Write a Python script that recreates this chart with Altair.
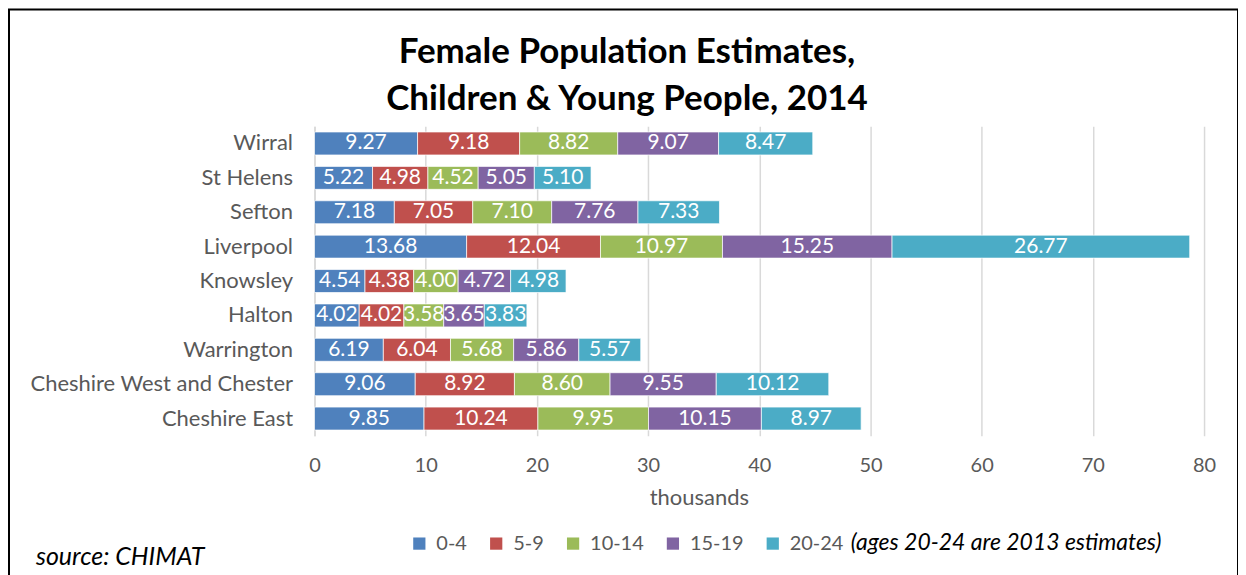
import altair as alt
import pandas as pd

regions = ["Wirral", "St Helens", "Sefton", "Liverpool", "Knowsley", "Halton",
           "Warrington", "Cheshire West and Chester", "Cheshire East"]
ages = ["0-4", "5-9", "10-14", "15-19", "20-24"]
colors = ["#4F81BD", "#C0504D", "#9BBB59", "#8064A2", "#4BACC6"]
title_lines = ["Female Population Estimates,", "Children & Young People, 2014"]

v_0_4 = [9.27, 5.22, 7.18, 13.68, 4.54, 4.02, 6.19, 9.06, 9.85]
v_5_9 = [9.18, 4.98, 7.05, 12.04, 4.38, 4.02, 6.04, 8.92, 10.24]
v_10_14 = [8.82, 4.52, 7.10, 10.97, 4.00, 3.58, 5.68, 8.60, 9.95]
v_15_19 = [9.07, 5.05, 7.76, 15.25, 4.72, 3.65, 5.86, 9.55, 10.15]
v_20_24 = [8.47, 5.10, 7.33, 26.77, 4.98, 3.83, 5.57, 10.12, 8.97]

series = [v_0_4, v_5_9, v_10_14, v_15_19, v_20_24]
rows = []
for ai, (age, vals) in enumerate(zip(ages, series)):
    for r, v in zip(regions, vals):
        rows.append({"region": r, "age": age, "order": ai, "value": v})
df = pd.DataFrame(rows)

FONT = "Lato"
W, H = 891, 310

base = alt.Chart(df).transform_stack(
    stack="value", groupby=["region"], as_=["x0", "x1"],
    sort=[alt.SortField("order", order="ascending")]
).transform_calculate(mid="(datum.x0 + datum.x1) / 2")

ycode = alt.Y("region:N", sort=regions, title=None,
              scale=alt.Scale(paddingInner=0, paddingOuter=0),
              axis=alt.Axis(labelFontSize=22, labelColor="#595959", labelFont=FONT,
                            ticks=False, domainColor="#D9D9D9", domainWidth=1.5,
                            labelPadding=22, labelLimit=400, grid=False))

bars = base.mark_bar(size=23, stroke="white", strokeWidth=0.7).encode(
    x=alt.X("x0:Q", scale=alt.Scale(domain=[0, 80]), title="thousands",
            axis=alt.Axis(values=list(range(0, 81, 10)), labelFontSize=20,
                          labelColor="#595959", labelFont=FONT, titleFont=FONT,
                          titleFontSize=22, titleColor="#595959", titleFontWeight="normal",
                          ticks=False, domain=False, gridColor="#D9D9D9", gridWidth=1.5,
                          labelFlush=False, labelPadding=20, titleX=385, titleY=52)),
    x2="x1:Q",
    y=ycode,
    color=alt.Color("age:N", sort=ages, scale=alt.Scale(domain=ages, range=colors),
                    legend=alt.Legend(title=None, orient="none", direction="horizontal",
                                      legendX=95, legendY=408, symbolType="square",
                                      symbolSize=150, symbolStrokeWidth=0,
                                      labelFontSize=20, labelColor="#595959",
                                      labelFont=FONT, columnPadding=19, labelOffset=7)),
    order=alt.Order("order:Q"),
)

labels = base.mark_text(color="white", fontSize=21, font=FONT).encode(
    x="mid:Q", y=alt.Y("region:N", sort=regions),
    text=alt.Text("value:Q", format=".2f"),
)

title1 = alt.Chart(alt.Data(values=[{"t": title_lines[0]}])).mark_text(
    align="center", baseline="alphabetic", fontSize=35, font=FONT, fontWeight="bold", color="#000000"
).encode(x=alt.value(313), y=alt.value(-63), text="t:N")
title2 = alt.Chart(alt.Data(values=[{"t": title_lines[1]}])).mark_text(
    align="center", baseline="alphabetic", fontSize=35, font=FONT, fontWeight="bold", color="#000000"
).encode(x=alt.value(313), y=alt.value(-16), text="t:N")

note = alt.Chart(alt.Data(values=[{"t": "(ages 20-24 are 2013 estimates)"}])).mark_text(
    align="left", baseline="middle", fontSize=23, font=FONT, fontStyle="italic", color="#000000"
).encode(x=alt.value(537), y=alt.value(417), text="t:N")

source = alt.Chart(alt.Data(values=[{"t": "source: CHIMAT"}])).mark_text(
    align="left", baseline="middle", fontSize=25, font=FONT, fontStyle="italic", color="#000000"
).encode(x=alt.value(-279), y=alt.value(431), text="t:N")

border = alt.Chart(alt.Data(values=[{}])).mark_rect(
    fill=None, stroke="#000000", strokeWidth=2
).encode(x=alt.value(-306), x2=alt.value(925), y=alt.value(-117), y2=alt.value(480))

chart = alt.layer(border, bars, labels, title1, title2, note, source).properties(
    width=W, height=H,
    padding={"left": 307, "top": 118, "right": 34, "bottom": 150},
    autosize=alt.AutoSizeParams(type="none"),
).configure_view(stroke=None)

chart.save("out.html", embed_options={"renderer": "svg", "actions": False})
